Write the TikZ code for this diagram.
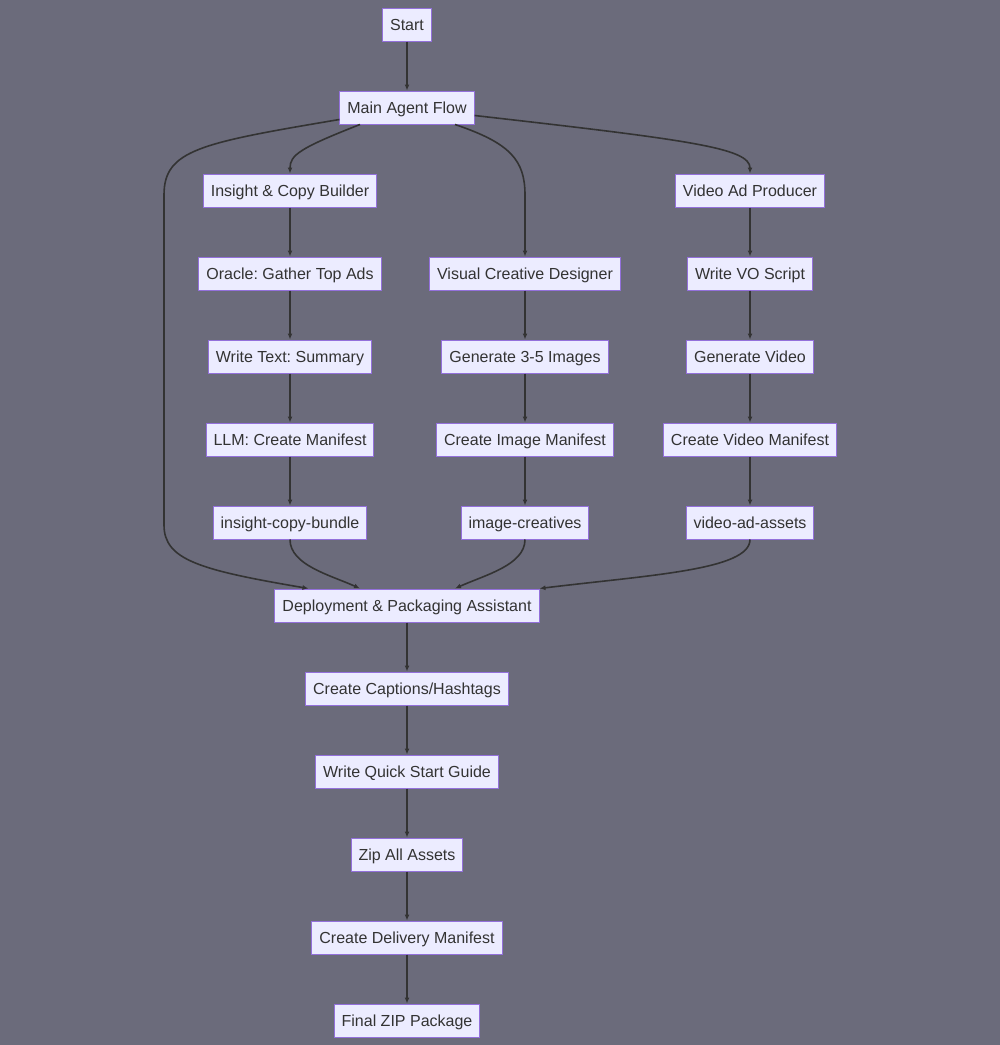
\documentclass[tikz,border=0pt]{standalone}
\usepackage{fontspec}
\setmainfont{Liberation Sans}
\usepackage{tikz}
\usetikzlibrary{arrows.meta,calc,positioning}
\usepackage{xcolor}
\definecolor{Fond}{RGB}{107,107,123}
\definecolor{Boite}{RGB}{236,236,255}
\definecolor{Bord}{RGB}{147,112,219}
\definecolor{Trait}{RGB}{51,51,51}
\frenchspacing
\tikzset{
  etape/.style = {draw=Bord, fill=Boite, line width=1pt, text=Trait, minimum height=33pt, inner xsep=7.5pt, text height=13.5pt, text depth=1.5pt, font=\fontsize{16}{19}\selectfont},
  fleche/.style = {draw=Trait, line width=1.6pt, -{Latex[length=6pt,width=5pt]}}
}

\begin{document}
\begin{tikzpicture}[x=1pt,y=-1pt]
\fill[Fond] (0,0) rectangle (1000,1045);
\useasboundingbox (0,0) rectangle (1000,1045);
%
\node[etape] (start) at (407,24.5) {Start};
\node[etape] (main) at (407,107.5) {Main Agent Flow};
\node[etape] (insight) at (290,190.5) {Insight \& Copy Builder};
\node[etape] (video) at (750,190.5) {Video Ad Producer};
\node[etape] (oracle) at (290,273.5) {Oracle: Gather Top Ads};
\node[etape] (visual) at (525,273.5) {Visual Creative Designer};
\node[etape] (vo) at (750,273.5) {Write VO Script};
\node[etape] (summary) at (290,356.5) {Write Text: Summary};
\node[etape] (images) at (525,356.5) {Generate 3-5 Images};
\node[etape] (genvideo) at (750,356.5) {Generate Video};
\node[etape] (llm) at (290,439.5) {LLM: Create Manifest};
\node[etape] (imgman) at (525,439.5) {Create Image Manifest};
\node[etape] (vidman) at (750,439.5) {Create Video Manifest};
\node[etape] (bundle) at (290,522.5) {insight-copy-bundle};
\node[etape] (creatives) at (525,522.5) {image-creatives};
\node[etape] (assets) at (750,522.5) {video-ad-assets};
\node[etape] (deploy) at (407,605.5) {Deployment \& Packaging Assistant};
\node[etape] (captions) at (407,688.5) {Create Captions/Hashtags};
\node[etape] (guide) at (407,771.5) {Write Quick Start Guide};
\node[etape] (zip) at (407,854.5) {Zip All Assets};
\node[etape] (delivery) at (407,937.5) {Create Delivery Manifest};
\node[etape] (final) at (407,1020.5) {Final ZIP Package};
%
\draw[fleche] (start) -- (main);
\draw[fleche] ($(main.south)+(-47,0)$) .. controls (300,148) and (290,155) .. (insight.north);
\draw[fleche] ($(main.south)+(48,0)$) .. controls (510,143) and (525,160) .. (525,195) -- (visual.north);
\draw[fleche] ($(main.east)+(0,8)$) .. controls (690,140) and (750,148) .. (video.north);
\draw[fleche] ($(main.west)+(0,12)$) .. controls (200,143) and (164,150) .. (164,195) -- (164,525) .. controls (164,560) and (200,570) .. ($(deploy.north west)+(34,0)$);
%
\draw[fleche] (insight) -- (oracle);
\draw[fleche] (oracle) -- (summary);
\draw[fleche] (summary) -- (llm);
\draw[fleche] (llm) -- (bundle);
\draw[fleche] (visual) -- (images);
\draw[fleche] (images) -- (imgman);
\draw[fleche] (imgman) -- (creatives);
\draw[fleche] (video) -- (vo);
\draw[fleche] (vo) -- (genvideo);
\draw[fleche] (genvideo) -- (vidman);
\draw[fleche] (vidman) -- (assets);
%
\draw[fleche] (bundle.south) .. controls (290,565) and (330,575) .. ($(deploy.north)+(-47,0)$);
\draw[fleche] (creatives.south) .. controls (525,565) and (485,575) .. ($(deploy.north)+(48,0)$);
\draw[fleche] (assets.south) .. controls (750,570) and (650,575) .. (deploy.north east);
%
\draw[fleche] (deploy) -- (captions);
\draw[fleche] (captions) -- (guide);
\draw[fleche] (guide) -- (zip);
\draw[fleche] (zip) -- (delivery);
\draw[fleche] (delivery) -- (final);
\end{tikzpicture}
\end{document}
